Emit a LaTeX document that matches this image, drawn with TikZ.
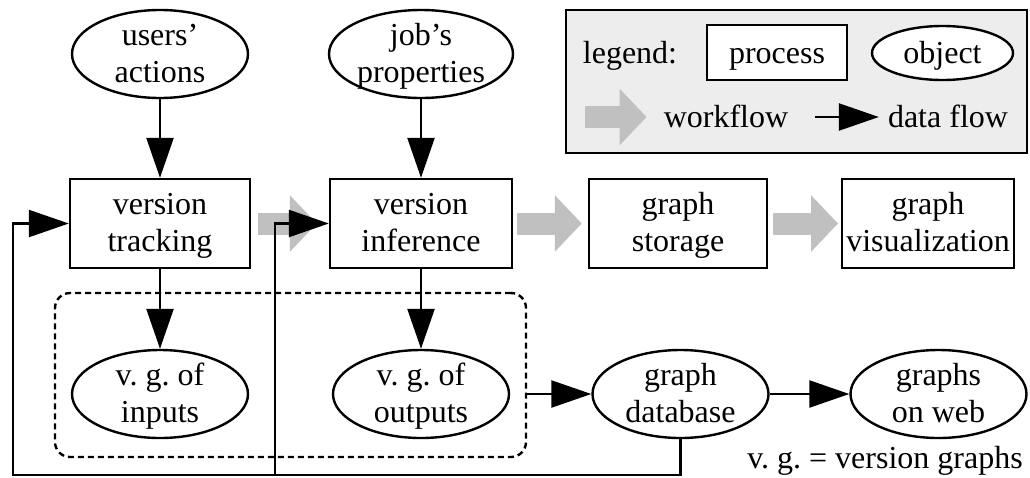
\documentclass[tikz,border=0pt]{standalone}
\usepackage{fontspec}
\setmainfont{Liberation Serif}
\usetikzlibrary{arrows.meta,shapes.geometric}

\definecolor{flowgray}{RGB}{192,192,192}
\definecolor{legendgray}{RGB}{237,237,237}

\begin{document}
\frenchspacing
\begin{tikzpicture}[x=1pt,y=-1pt,->,>={Triangle[length=40pt,width=27pt]},line width=2.4pt,
        font=\fontsize{32}{37}\selectfont,
        process node/.style={rectangle,draw,fill=white,minimum height=89pt,inner xsep=4pt,align=center,text height=56pt,text depth=0pt},
        object node/.style={ellipse,draw,fill=white,minimum width=176pt,minimum height=88pt,inner sep=0pt,align=center,text height=56pt,text depth=0pt},
        legend text/.style={inner sep=2pt,text height=21pt,text depth=0pt},
        work flow/.style={draw=flowgray,line width=22pt,-{Triangle[length=27pt,width=55pt]},shorten <=5pt,shorten >=3pt},
        group box/.style={draw,rounded corners=15pt,dash pattern=on 6pt off 4pt}]

        \useasboundingbox (0,0) rectangle (1030,477);

        % legend
        \node[draw,fill=legendgray,minimum width=461pt,minimum height=143pt] (legend) at (796.5,81.5) {};
        \node[legend text] (legtitle) at (630,52.5) {legend:};
        \node[draw,fill=white,minimum width=140pt,minimum height=55pt,legend text] (legproc) at (777,52.5) {process};
        \node[ellipse,draw,fill=white,minimum width=141pt,minimum height=54pt,legend text] (legobj) at (942.5,53) {object};
        \coordinate (wfstart) at (585,117);
        \node[legend text] (wftext) at (726,117) {workflow};
        \coordinate (dfstart) at (815,117);
        \node[legend text] (dftext) at (948,117) {data flow};
        \draw[work flow,shorten <=0pt,shorten >=14pt] (wfstart) -- (wftext.west);
        \draw[shorten >=6pt] (dfstart) -- (dftext);

        % inputs of the workflow
        \node[object node] (users) at (160,54) {users'\\actions};
        \node[object node,minimum width=184pt] (props) at (421,54) {job's\\properties};

        % processes
        \node[process node,minimum width=180pt] (track) at (160,223.5) {version\\tracking};
        \node[process node,minimum width=182pt] (infer) at (421,223.5) {version\\inference};
        \node[process node,minimum width=178pt] (store) at (678,223.5) {graph\\storage};
        \node[process node,minimum width=170pt] (visual) at (928,223.5) {graph\\visualization};

        % version graphs and storage
        \node[group box,minimum width=471pt,minimum height=164pt] (vg) at (290.5,375) {};
        \node[object node] (inputs) at (160,394) {v. g. of\\inputs};
        \node[object node] (outputs) at (421,394) {v. g. of\\outputs};
        \node[object node] (db) at (680.5,394) {graph\\database};
        \node[object node] (web) at (938.5,394) {graphs\\on web};
        \node[legend text] (vgnote) at (885,457.5) {v. g. = version graphs};

        % workflow
        \draw[work flow,shorten <=7pt,shorten >=12pt] (track) -- (infer);
        \draw[work flow,shorten <=4pt,shorten >=6pt] (infer) -- (store);
        \draw[work flow] (store) -- (visual);

        % data flow
        \path (users) edge (track)
        (props) edge (infer)
        (track) edge (inputs)
        (infer) edge (outputs)
        (vg.east |- db) edge (db)
        (db) edge (web);

        \coordinate (loop left) at (13,475);
        \coordinate (loop mid) at (275,475);
        \draw (db.south) |- (loop left) |- (track.west);
        \draw (loop mid) |- (infer.west);
      \end{tikzpicture}
\end{document}
